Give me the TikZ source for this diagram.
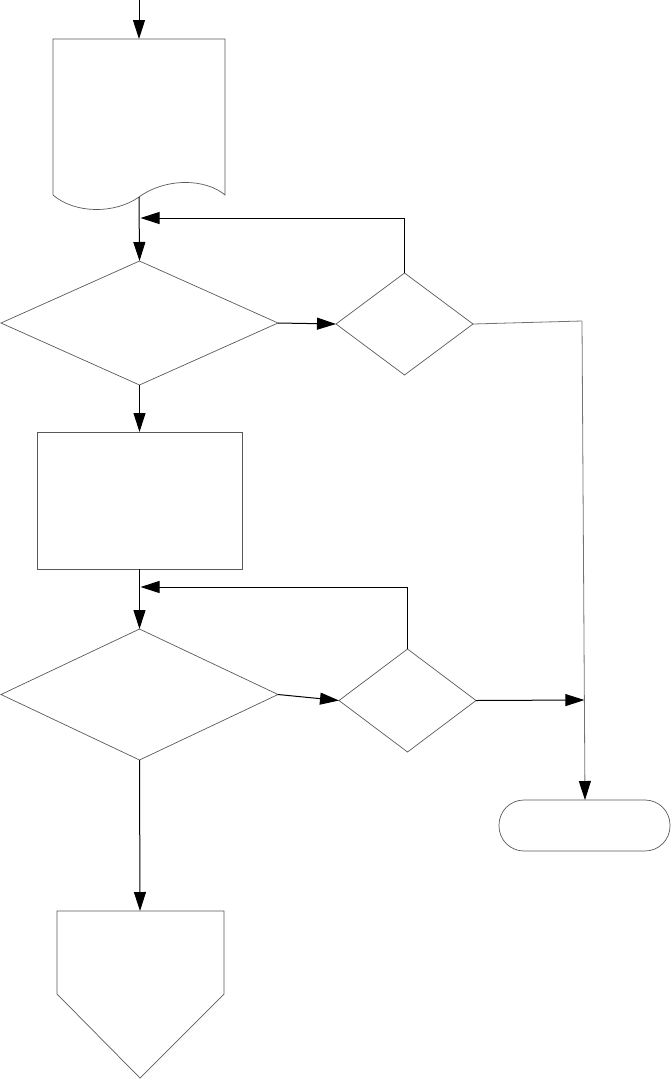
\documentclass[tikz,border=0pt]{standalone}
\usetikzlibrary{arrows.meta,shapes.geometric}
\begin{document}
\begin{tikzpicture}[x=1pt,y=-1pt,
  outline/.style={draw=black!65,line width=0.7pt},
  dia/.style={outline,shape=diamond,inner sep=0pt,outer sep=0pt},
  conn/.style={draw=black,line width=1pt,-{Triangle[length=19pt,width=12pt]}},
  plainconn/.style={draw=black!55,line width=0.8pt}]
\useasboundingbox (0,0) rectangle (671,1079);
% document shape
\coordinate (start) at (139,0);
\coordinate (doctop) at (139,39);
\coordinate (docbot) at (139,197);
\draw[outline] (53,195) -- (53,39) -- (225,39) -- (225,195)
  .. controls (205,178) and (165,178) .. (139,197)
  .. controls (115,214) and (75,214) .. (53,195);
% decisions and process
\node[dia,minimum width=277pt,minimum height=124pt] (d1) at (139.5,323) {};
\node[dia,minimum width=137pt,minimum height=102pt] (d2) at (404.5,324) {};
\node[outline,rectangle,inner sep=0pt,outer sep=0pt,minimum width=205pt,minimum height=137pt] (proc) at (139.5,500.5) {};
\node[dia,minimum width=277pt,minimum height=131pt] (d3) at (139.5,694.5) {};
\node[dia,minimum width=137pt,minimum height=103pt] (d4) at (407.5,700.5) {};
% terminator
\coordinate (termtop) at (585,800);
\draw[outline,rounded corners=25pt] (499,800) rectangle (670,851);
% off-page connector
\coordinate (pentop) at (140,911);
\draw[outline] (57,911) -- (224,911) -- (224,994) -- (140,1078) -- (57,994) -- cycle;
% junction coordinates
\coordinate (j1) at (140.5,218);
\coordinate (j2) at (140.5,587);
\coordinate (c1) at (582,321);
\coordinate (j3) at (584.4,700);
% connectors
\draw[conn] (start) -- (doctop);
\draw[conn] (docbot) -- (d1.north);
\draw[conn] (d2.north) |- (j1);
\draw[conn] (d1.east) -- (d2.west);
\draw[plainconn] (d2.east) -- (c1);
\draw[plainconn,-{Triangle[length=19pt,width=12pt,fill=black,color=black]}] (c1) -- (termtop);
\draw[conn] (d1.south) -- (proc.north);
\draw[conn] (proc.south) -- (d3.north);
\draw[conn] (d4.north) |- (j2);
\draw[conn] (d3.east) -- (d4.west);
\draw[conn] (d4.east) -- (j3);
\draw[conn] (d3.south) -- (pentop);
\end{tikzpicture}
\end{document}
